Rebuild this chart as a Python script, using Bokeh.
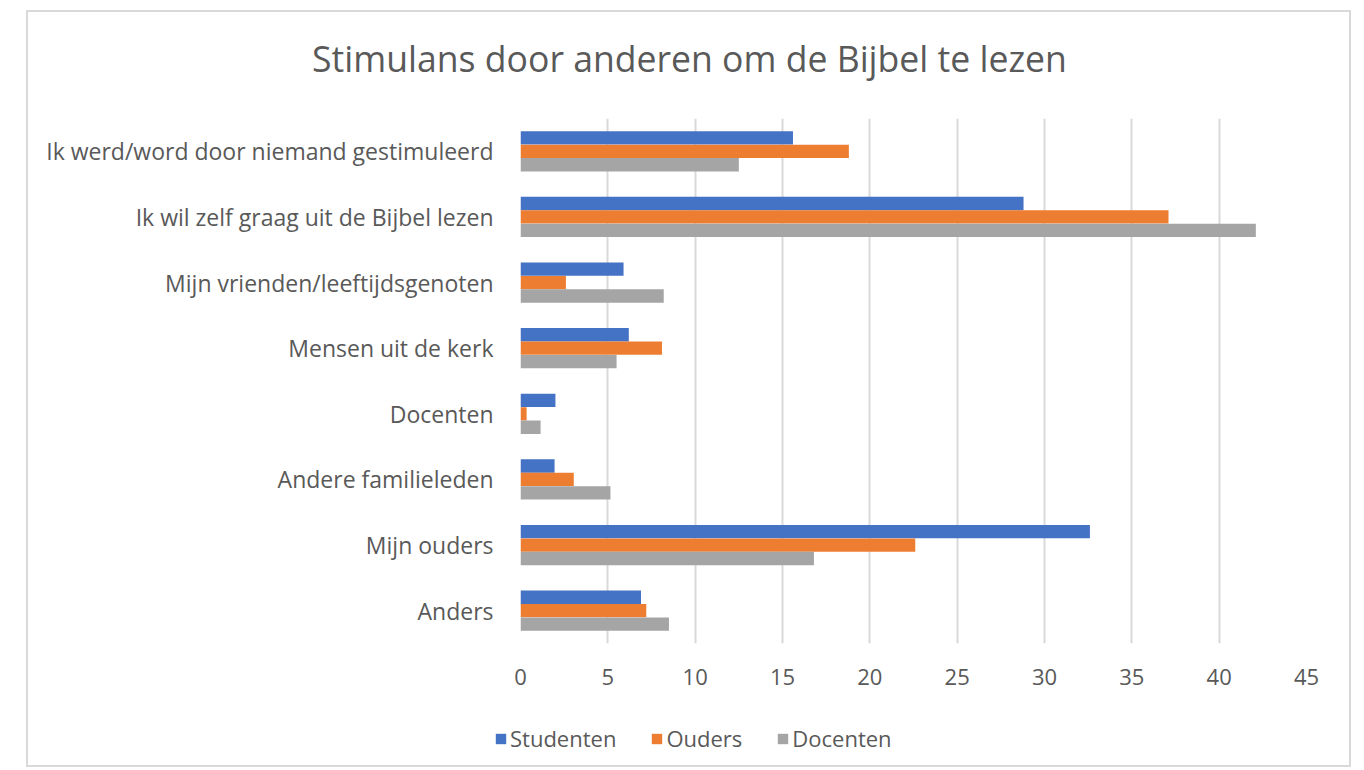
from bokeh.plotting import figure
from bokeh.models import ColumnDataSource, FactorRange, Range1d, Legend, LegendItem, FixedTicker, Label
from bokeh.layouts import column
from bokeh.transform import dodge
from bokeh.embed import file_html
from bokeh.resources import INLINE

categories = [
    "Ik werd/word door niemand gestimuleerd",
    "Ik wil zelf graag uit de Bijbel lezen",
    "Mijn vrienden/leeftijdsgenoten",
    "Mensen uit de kerk",
    "Docenten",
    "Andere familieleden",
    "Mijn ouders",
    "Anders",
]
studenten = [15.6, 28.8, 5.9, 6.2, 2.0, 1.95, 32.6, 6.9]
ouders = [18.8, 37.1, 2.6, 8.1, 0.35, 3.05, 22.6, 7.2]
docenten = [12.5, 42.1, 8.2, 5.5, 1.15, 5.15, 16.8, 8.5]
series_names = ["Studenten", "Ouders", "Docenten"]
colors = ["#4472C4", "#ED7D31", "#A5A5A5"]
x_ticks = [0, 5, 10, 15, 20, 25, 30, 35, 40, 45]
title_text = "Stimulans door anderen om de Bijbel te lezen"

FONT = "Open Sans"
TXT = "#595959"
W = 1321

src = ColumnDataSource(dict(cat=categories, Studenten=studenten, Ouders=ouders, Docenten=docenten))


def strip(height):
    f = figure(width=W, height=height, x_range=Range1d(0, 1), y_range=Range1d(0, 1),
               output_backend="svg", toolbar_location=None,
               min_border_left=0, min_border_right=0, min_border_top=0, min_border_bottom=0)
    f.frame_align = False
    f.axis.visible = False
    f.grid.grid_line_color = None
    f.outline_line_color = None
    f.background_fill_color = "white"
    f.border_fill_color = "white"
    return f


# title strip
t = strip(106)
t.add_layout(Label(x=661, y=61, x_units="screen", y_units="screen", text=title_text,
                   text_align="center", text_baseline="alphabetic",
                   text_font=FONT, text_font_size="35.6px", text_color=TXT))

# main chart
p = figure(
    width=W, height=582,
    x_range=Range1d(0, 45),
    y_range=FactorRange(*list(reversed(categories))),
    output_backend="svg", toolbar_location=None,
    min_border_left=492, min_border_right=43, min_border_top=0, min_border_bottom=57,
)
p.frame_align = False
p.outline_line_color = None
p.background_fill_color = "white"
p.border_fill_color = "white"

offsets = [0.205, 0.0, -0.205]
for name, col, off in zip(series_names, colors, offsets):
    p.hbar(y=dodge("cat", off, range=p.y_range), right=name, left=0, height=0.203,
           source=src, fill_color=col, line_color=None)

p.xgrid.grid_line_color = "#d9d9d9"
p.xgrid.grid_line_width = 2
p.ygrid.grid_line_color = None
p.xaxis.ticker = FixedTicker(ticks=x_ticks)
p.xaxis.axis_line_color = None
p.xaxis.major_tick_line_color = None
p.xaxis.minor_tick_line_color = None
p.xaxis.major_tick_out = 0
p.xaxis.major_label_standoff = 25
p.xaxis.major_label_text_font = FONT
p.xaxis.major_label_text_font_size = "22px"
p.xaxis.major_label_text_color = TXT

p.yaxis.axis_line_color = None
p.yaxis.major_tick_line_color = None
p.yaxis.minor_tick_line_color = None
p.yaxis.major_tick_out = 0
p.yaxis.major_label_standoff = 27
p.yaxis.major_label_text_font = FONT
p.yaxis.major_label_text_font_size = "23px"
p.yaxis.major_label_text_color = TXT

# legend strip
q = strip(65)
swatches = []
for name, col in zip(series_names, colors):
    r = q.hbar(y=0.5, right=name, left=0, height=0.5, source=src, fill_color=col, line_color=None)
    r.visible = False
    swatches.append(r)

legend = Legend(
    items=[LegendItem(label=n, renderers=[r]) for n, r in zip(series_names, swatches)],
    orientation="horizontal", location=(466, 12),
    border_line_color=None, background_fill_alpha=0,
    inactive_fill_alpha=0,
    label_text_font=FONT, label_text_font_size="22px", label_text_color=TXT,
    glyph_width=13, glyph_height=13, label_standoff=3, spacing=34, padding=0, margin=0,
)
q.add_layout(legend)

layout = column(t, p, q, spacing=0,
                styles={"border": "2px solid #d9d9d9", "margin-left": "26px", "margin-top": "10px"})

open("out.html", "w").write(file_html(layout, INLINE))
